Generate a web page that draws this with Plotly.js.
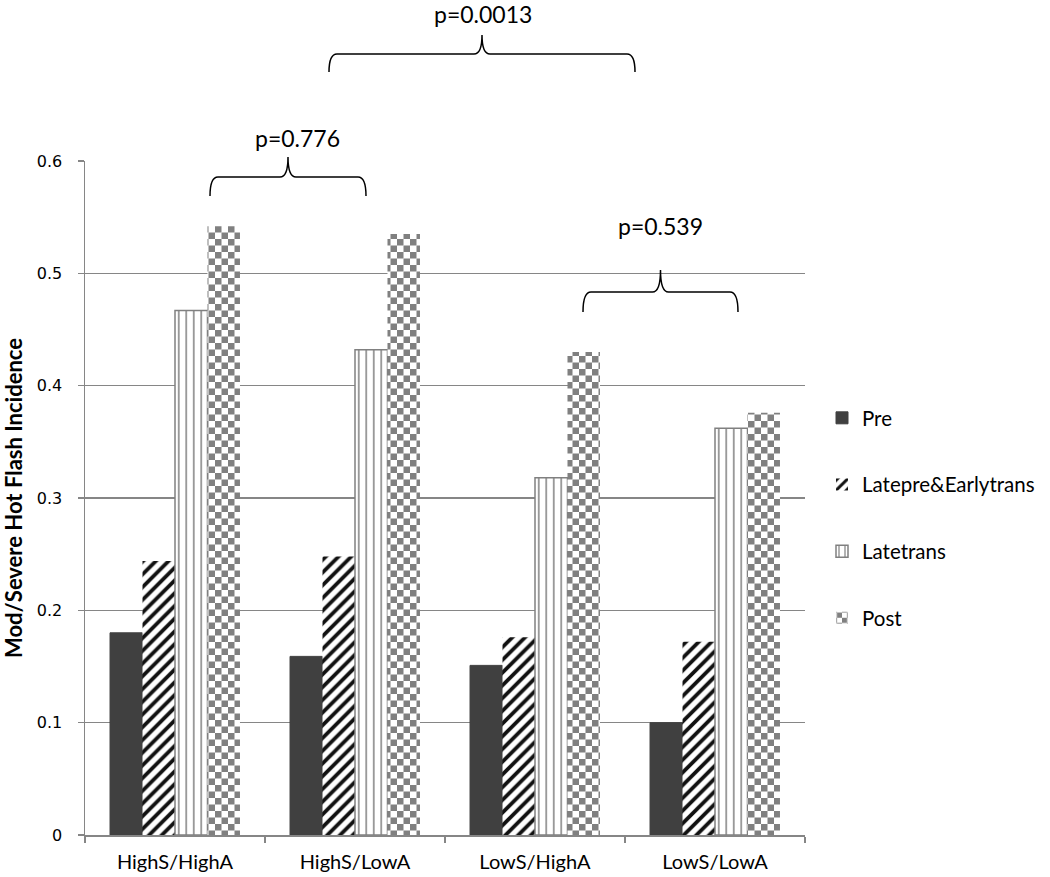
<!DOCTYPE html>
<html>
<head>
<meta charset="utf-8">
<script src="https://cdn.plot.ly/plotly-3.0.1.min.js"></script>
<style>html,body{margin:0;padding:0;background:#fff;}#chart{width:1050px;height:877px;}</style>
</head>
<body>
<div id="chart"></div>
<script>
// ---- data ----
const categories = ['HighS/HighA', 'HighS/LowA', 'LowS/HighA', 'LowS/LowA'];
const seriesNames = ['Pre', 'Latepre&Earlytrans', 'Latetrans', 'Post'];
const pre = [0.180, 0.159, 0.151, 0.100];
const lateEarly = [0.244, 0.248, 0.176, 0.172];
const lateTrans = [0.467, 0.432, 0.318, 0.362];
const post = [0.542, 0.535, 0.430, 0.376];
const yTicks = [0, 0.1, 0.2, 0.3, 0.4, 0.5, 0.6];
const pLabels = ['p=0.0013', 'p=0.776', 'p=0.539'];

// ---- layout helpers (pixel -> paper) ----
const W = 1050, H = 877;
const L = 85, R = 805, T = 161, B = 835;
const px = x => (x - L) / (R - L);
const py = y => (B - y) / (B - T);

function bracePath(x0, x1, yTip, yH, yPeak) {
  const xc = (x0 + x1) / 2, r = 8;
  const P = (x, y) => px(x).toFixed(5) + ',' + py(y).toFixed(5);
  return 'M' + P(x0, yTip) +
    ' Q' + P(x0, yH) + ' ' + P(x0 + r, yH) +
    ' L' + P(xc - r, yH) +
    ' Q' + P(xc, yH) + ' ' + P(xc, yPeak) +
    ' Q' + P(xc, yH) + ' ' + P(xc + r, yH) +
    ' L' + P(x1 - r, yH) +
    ' Q' + P(x1, yH) + ' ' + P(x1, yTip);
}

const braces = [
  {x0: 329, x1: 635, tip: 72, h: 54, peak: 35, tx: 483, ty: 14},
  {x0: 210, x1: 366, tip: 196, h: 177, peak: 157, tx: 297, ty: 138},
  {x0: 583, x1: 738, tip: 312, h: 292, peak: 270, tx: 660, ty: 226}
];

const shapes = braces.map(b => ({
  type: 'path', xref: 'paper', yref: 'paper',
  path: bracePath(b.x0, b.x1, b.tip, b.h, b.peak),
  line: {color: '#000', width: 1.5}
}));
const annotations = braces.map((b, i) => ({
  xref: 'paper', yref: 'paper', x: px(b.tx), y: py(b.ty),
  text: pLabels[i], showarrow: false, xanchor: 'center', yanchor: 'middle',
  font: {family: 'Lato, sans-serif', size: 23, color: '#000'}
}));

const gray = '#808080';
const traces = [
  {type: 'bar', name: seriesNames[0], x: categories, y: pre,
   marker: {color: '#404040', line: {color: '#404040', width: 1}}},
  {type: 'bar', name: seriesNames[1], x: categories, y: lateEarly,
   marker: {color: '#ffffff', line: {width: 0},
     pattern: {shape: '/', fgcolor: '#111111', bgcolor: '#ffffff', size: 9, solidity: 0.42, fillmode: 'replace'}}},
  {type: 'bar', name: seriesNames[2], x: categories, y: lateTrans,
   marker: {color: '#ffffff', line: {color: gray, width: 1.5},
     pattern: {shape: '|', fgcolor: gray, bgcolor: '#ffffff', size: 7.5, solidity: 0.2, fillmode: 'replace'}}},
  {type: 'bar', name: seriesNames[3], x: categories, y: post,
   marker: {color: '#ffffff', line: {width: 0},
     pattern: {shape: '.', fgcolor: gray, bgcolor: '#ffffff', size: 12, solidity: 0.5, fillmode: 'replace'}}}
];

const layout = {
  width: W, height: H,
  margin: {l: L, r: W - R, t: T, b: H - B, pad: 0, autoexpand: false},
  paper_bgcolor: '#fff', plot_bgcolor: '#fff',
  barmode: 'group', bargap: 0.278, bargroupgap: 0,
  showlegend: true,
  legend: {x: px(822), y: py(398), xanchor: 'left', yanchor: 'top',
    tracegroupgap: 37, itemwidth: 30,
    font: {family: 'Lato, sans-serif', size: 20.5, color: '#000'}},
  xaxis: {type: 'category', showline: true, linecolor: '#868686', linewidth: 1.5,
    ticks: 'outside', tickson: 'boundaries', ticklen: 6, tickcolor: '#868686', tickwidth: 1.5,
    showgrid: false, zeroline: false, ticklabelstandoff: 8,
    tickfont: {family: 'Lato, sans-serif', size: 20, color: '#000'}},
  yaxis: {range: [0, 0.6], tickvals: yTicks, ticktext: yTicks.map(v => v === 0 ? '0' : v.toFixed(1)),
    showline: true, linecolor: '#868686', linewidth: 1.5,
    ticks: 'outside', ticklen: 6, tickcolor: '#868686', tickwidth: 1.5,
    showgrid: true, gridcolor: '#868686', gridwidth: 1.5, zeroline: false,
    ticklabelstandoff: 12,
    tickfont: {family: 'DejaVu Sans, sans-serif', size: 16, color: '#000'},
    title: {text: 'Mod/Severe Hot Flash Incidence', standoff: 12,
      font: {family: 'Lato, sans-serif', size: 22, color: '#000', weight: 'bold'}}},
  shapes: shapes,
  annotations: annotations
};

// give each trace its own legend group so tracegroupgap spaces the entries
traces.forEach((t, i) => { t.legendgroup = 'g' + i; });

function patchCheckers() {
  const ns = 'http://www.w3.org/2000/svg';
  document.querySelectorAll('#chart pattern').forEach(p => {
    if (!p.querySelector('circle')) return;
    const s = 6.5;
    p.setAttribute('width', 2 * s);
    p.setAttribute('height', 2 * s);
    while (p.firstChild) p.removeChild(p.firstChild);
    const mk = (x, y, w, h, c) => { const r = document.createElementNS(ns, 'rect');
      r.setAttribute('x', x); r.setAttribute('y', y); r.setAttribute('width', w); r.setAttribute('height', h);
      r.setAttribute('fill', c); p.appendChild(r); };
    mk(0, 0, 2 * s, 2 * s, '#ffffff');
    mk(0, 0, s, s, gray);
    mk(s, s, s, s, gray);
  });
}

Plotly.newPlot('chart', traces, layout, {displayModeBar: false, staticPlot: true}).then(gd => {
  patchCheckers();
  gd.on('plotly_afterplot', patchCheckers);
});
</script>
</body>
</html>
